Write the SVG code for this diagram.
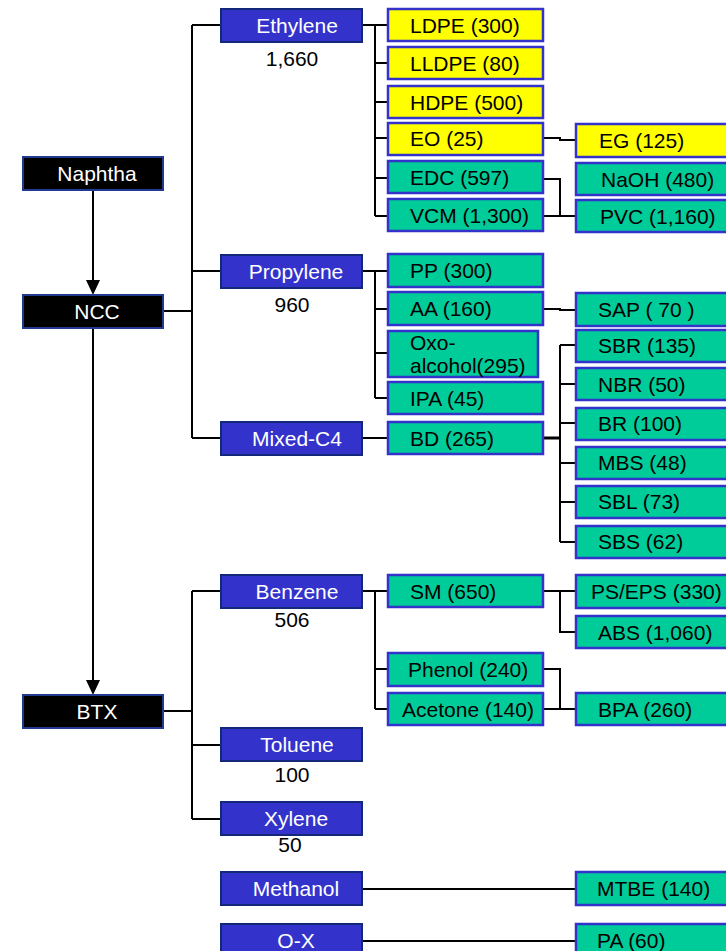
<svg xmlns="http://www.w3.org/2000/svg" width="726" height="951" viewBox="0 0 726 951">
<style>
text{font-family:"Liberation Sans",Arial,sans-serif;font-size:21px}
.blk{fill:#000;stroke:#1F3A8F;stroke-width:2}
.blu{fill:#3333CC;stroke:#14287A;stroke-width:2}
.yel{fill:#FFFF00;stroke:#3333CC;stroke-width:2.5}
.grn{fill:#00CC99;stroke:#3333CC;stroke-width:2.5}
.w{fill:#fff;text-anchor:middle}
.n{fill:#000;text-anchor:middle}
.k{fill:#000}
.ln{fill:none;stroke:#000;stroke-width:2}
</style>
<defs>
<marker id="ah" markerUnits="userSpaceOnUse" markerWidth="16" markerHeight="16" refX="0" refY="8" orient="auto" viewBox="0 0 16 16">
<path d="M0,1 L15,8 L0,15 Z" fill="#000"/>
</marker>
</defs>
<g id="connectors">
<path class="ln" d="M93 190 V280" marker-end="url(#ah)"/>
<path class="ln" d="M93 328 V680" marker-end="url(#ah)"/>
<path class="ln" d="M163 311 H192 M192 25 V438 M192 25 H221 M192 271 H221 M192 438 H221"/>
<path class="ln" d="M163 711 H192 M192 591 V819 M192 591 H221 M192 745 H221 M192 819 H221"/>
<path class="ln" d="M362 25 H388 M375 25 V216 M375 63 H388 M375 102 H388 M375 138 H388 M375 178 H388 M375 216 H388"/>
<path class="ln" d="M543 138 H560 V140 H576"/>
<path class="ln" d="M543 179 H560 V216 H576 M543 216 H560"/>
<path class="ln" d="M362 271 H388 M375 271 V398 M375 309 H388 M375 353 H388 M375 398 H388"/>
<path class="ln" d="M543 309 H560 V310 H576"/>
<path class="ln" d="M362 438 H388"/>
<path class="ln" style="stroke-width:3" d="M543 438 H560"/>
<path class="ln" d="M560 345 V542 M560 345 H576 M560 384 H576 M560 423 H576 M560 463 H576 M560 502 H576 M560 542 H576"/>
<path class="ln" d="M362 591 H388 M375 591 V709 M375 669 H388 M375 709 H388"/>
<path class="ln" d="M543 591 H576 M560 591 V632 H576"/>
<path class="ln" d="M543 669 H560 V709 H576 M543 709 H560"/>
<path class="ln" d="M362 889 H576 M362 941 H576"/>
</g>
<g id="naphtha"><rect class="blk" x="23" y="157" width="140" height="33"/><text class="w" x="97" y="181">Naphtha</text></g>
<g id="ncc"><rect class="blk" x="23" y="295" width="140" height="33"/><text class="w" x="97" y="319">NCC</text></g>
<g id="btx"><rect class="blk" x="23" y="695" width="140" height="33"/><text class="w" x="97" y="719">BTX</text></g>

<g id="ethylene"><rect class="blu" x="221" y="9" width="141" height="33"/><text class="w" x="297" y="33">Ethylene</text><text class="n" x="292" y="66">1,660</text></g>
<g id="propylene"><rect class="blu" x="221" y="255" width="141" height="33"/><text class="w" x="296" y="279">Propylene</text><text class="n" x="292" y="312">960</text></g>
<g id="mixedc4"><rect class="blu" x="221" y="422" width="141" height="33"/><text class="w" x="297" y="446">Mixed-C4</text></g>
<g id="benzene"><rect class="blu" x="221" y="575" width="141" height="33"/><text class="w" x="297" y="599">Benzene</text><text class="n" x="292" y="627">506</text></g>
<g id="toluene"><rect class="blu" x="221" y="728" width="141" height="33"/><text class="w" x="297" y="752">Toluene</text><text class="n" x="292" y="782">100</text></g>
<g id="xylene"><rect class="blu" x="221" y="802" width="141" height="33"/><text class="w" x="296" y="826">Xylene</text><text class="n" x="290" y="852">50</text></g>
<g id="methanol"><rect class="blu" x="221" y="872" width="141" height="33"/><text class="w" x="296" y="896">Methanol</text></g>
<g id="ox"><rect class="blu" x="221" y="924" width="141" height="33"/><text class="w" x="296" y="948">O-X</text></g>

<g id="ldpe"><rect class="yel" x="388" y="9" width="155" height="32"/><text class="k" x="410" y="33">LDPE (300)</text></g>
<g id="lldpe"><rect class="yel" x="388" y="47" width="155" height="32"/><text class="k" x="410" y="71">LLDPE (80)</text></g>
<g id="hdpe"><rect class="yel" x="388" y="86" width="155" height="32"/><text class="k" x="410" y="110">HDPE (500)</text></g>
<g id="eo"><rect class="yel" x="388" y="123" width="155" height="32"/><text class="k" x="410" y="146">EO (25)</text></g>
<g id="edc"><rect class="grn" x="388" y="161" width="155" height="32"/><text class="k" x="410" y="185">EDC (597)</text></g>
<g id="vcm"><rect class="grn" x="388" y="199" width="155" height="32"/><text class="k" x="410" y="223">VCM (1,300)</text></g>
<g id="pp"><rect class="grn" x="388" y="254" width="155" height="33"/><text class="k" x="410" y="278">PP (300)</text></g>
<g id="aa"><rect class="grn" x="388" y="292" width="155" height="33"/><text class="k" x="410" y="316">AA (160)</text></g>
<g id="oxo"><rect class="grn" x="388" y="331" width="150" height="46"/><text class="k" x="410" y="350">Oxo-</text><text class="k" x="410" y="373">alcohol(295)</text></g>
<g id="ipa"><rect class="grn" x="388" y="382" width="155" height="32"/><text class="k" x="410" y="406">IPA (45)</text></g>
<g id="bd"><rect class="grn" x="388" y="422" width="155" height="32"/><text class="k" x="410" y="446">BD (265)</text></g>
<g id="sm"><rect class="grn" x="388" y="575" width="155" height="32"/><text class="k" x="410" y="599">SM (650)</text></g>
<g id="phenol"><rect class="grn" x="388" y="653" width="155" height="33"/><text class="k" x="408" y="677">Phenol (240)</text></g>
<g id="acetone"><rect class="grn" x="388" y="693" width="155" height="32"/><text class="k" x="402" y="717">Acetone (140)</text></g>

<g id="eg"><rect class="yel" x="576" y="124" width="165" height="33"/><text class="k" x="599" y="148">EG (125)</text></g>
<g id="naoh"><rect class="grn" x="576" y="163" width="165" height="32"/><text class="k" x="601" y="187">NaOH (480)</text></g>
<g id="pvc"><rect class="grn" x="576" y="200" width="165" height="32"/><text class="k" x="600" y="224">PVC (1,160)</text></g>
<g id="sap"><rect class="grn" x="576" y="293" width="165" height="33"/><text class="k" x="598" y="317">SAP ( 70 )</text></g>
<g id="sbr"><rect class="grn" x="576" y="330" width="165" height="32"/><text class="k" x="598" y="353">SBR (135)</text></g>
<g id="nbr"><rect class="grn" x="576" y="368" width="165" height="32"/><text class="k" x="598" y="392">NBR (50)</text></g>
<g id="br"><rect class="grn" x="576" y="408" width="165" height="32"/><text class="k" x="598" y="431">BR (100)</text></g>
<g id="mbs"><rect class="grn" x="576" y="447" width="165" height="32"/><text class="k" x="598" y="470">MBS (48)</text></g>
<g id="sbl"><rect class="grn" x="576" y="486" width="165" height="32"/><text class="k" x="598" y="509">SBL (73)</text></g>
<g id="sbs"><rect class="grn" x="576" y="526" width="165" height="32"/><text class="k" x="598" y="549">SBS (62)</text></g>
<g id="pseps"><rect class="grn" x="576" y="575" width="165" height="33"/><text class="k" x="591" y="599">PS/EPS (330)</text></g>
<g id="abs"><rect class="grn" x="576" y="616" width="165" height="32"/><text class="k" x="598" y="640">ABS (1,060)</text></g>
<g id="bpa"><rect class="grn" x="576" y="693" width="165" height="32"/><text class="k" x="598" y="717">BPA (260)</text></g>
<g id="mtbe"><rect class="grn" x="576" y="872" width="165" height="33"/><text class="k" x="597" y="896">MTBE (140)</text></g>
<g id="pa"><rect class="grn" x="576" y="924" width="165" height="33"/><text class="k" x="597" y="948">PA (60)</text></g>
</svg>
